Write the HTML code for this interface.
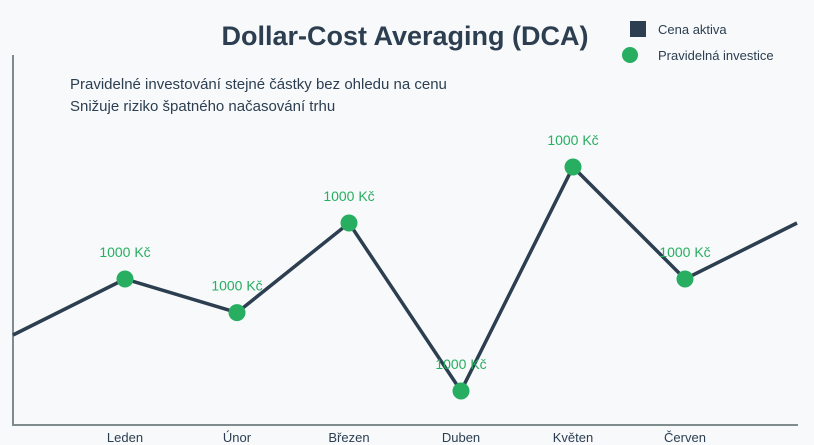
<!DOCTYPE html>
<html><head><meta charset="utf-8"><style>
body{margin:0;background:#f7f9fb;font-family:"Liberation Sans","DejaVu Sans",sans-serif}
svg{display:block}
</style></head><body>
<svg width="814" height="445" viewBox="0 0 814 445">
<rect width="814" height="445" fill="#f7f9fb"/>
<text x="405" y="45" text-anchor="middle" font-size="27" font-weight="bold" fill="#2c3e50">Dollar-Cost Averaging (DCA)</text>
<text x="70" y="89" font-size="15" fill="#2c3e50">Pravidelné investování stejné částky bez ohledu na cenu</text>
<text x="70" y="111" font-size="15" fill="#2c3e50">Snižuje riziko špatného načasování trhu</text>
<g>
<rect x="630" y="21" width="16" height="16" fill="#2c3e50"/>
<text x="658" y="34" font-size="13" fill="#2c3e50">Cena aktiva</text>
<circle cx="630" cy="55" r="8" fill="#27ae60"/>
<text x="658" y="60" font-size="13" fill="#2c3e50">Pravidelná investice</text>
</g>
<line x1="13" y1="55" x2="13" y2="425" stroke="#7f8c8d" stroke-width="2"/>
<line x1="12" y1="425" x2="798" y2="425" stroke="#7f8c8d" stroke-width="2"/>
<g id="plot"></g>
</svg>
<script>
const months = ["Leden","Únor","Březen","Duben","Květen","Červen"];
const prices = [60,48,80,20,100,60];
const startPrice = 40;
const endPrice = 80;
const investLabels = ["1000 Kč","1000 Kč","1000 Kč","1000 Kč","1000 Kč","1000 Kč"];
const NS="http://www.w3.org/2000/svg";
function xs(i){return 125+112*i;}
function ys(v){return 447-2.8*v;}
const g=document.getElementById('plot');
const all=[[-1,startPrice]].concat(prices.map((p,i)=>[i,p])).concat([[months.length,endPrice]]);
const line=document.createElementNS(NS,'polyline');
line.setAttribute('points',all.map(a=>xs(a[0])+','+ys(a[1])).join(' '));
line.setAttribute('fill','none');line.setAttribute('stroke','#2c3e50');line.setAttribute('stroke-width','3.5');


g.appendChild(line);
prices.forEach((p,i)=>{
 const c=document.createElementNS(NS,'circle');
 c.setAttribute('cx',xs(i));c.setAttribute('cy',ys(p));c.setAttribute('r','8.5');c.setAttribute('fill','#27ae60');
 
 
 g.appendChild(c);
 const t=document.createElementNS(NS,'text');
 t.setAttribute('x',xs(i));t.setAttribute('y',ys(p)-22);t.setAttribute('text-anchor','middle');
 t.setAttribute('font-size','14');t.setAttribute('fill','#27ae60');t.textContent=investLabels[i];
 
 
 g.appendChild(t);
 const m=document.createElementNS(NS,'text');
 m.setAttribute('x',xs(i));m.setAttribute('y',442);m.setAttribute('text-anchor','middle');
 m.setAttribute('font-size','13');m.setAttribute('fill','#2c3e50');m.textContent=months[i];
 
 
 g.appendChild(m);
});
</script>
</body></html>
